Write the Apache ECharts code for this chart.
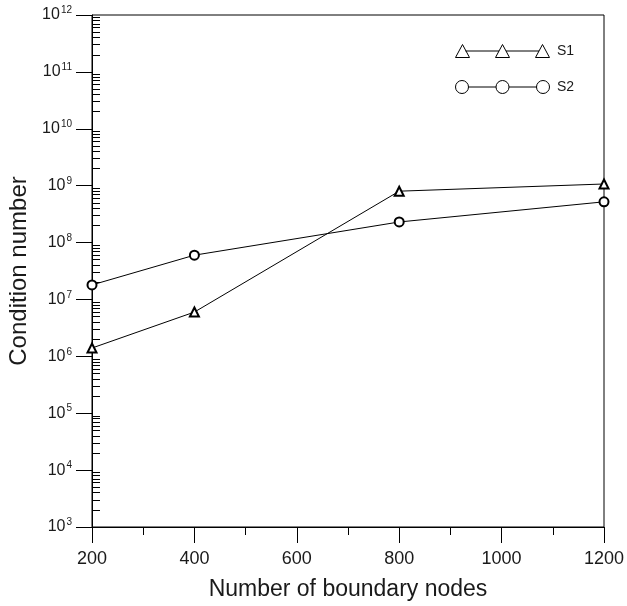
<!DOCTYPE html>
<html>
<head>
<meta charset="utf-8">
<script src="https://cdn.jsdelivr.net/npm/echarts@6/dist/echarts.min.js"></script>
<style>
  html, body { margin: 0; padding: 0; background: #fff; }
  #chart { width: 627px; height: 606px; }
</style>
</head>
<body>
<div id="chart"></div>
<script>
// boundary nodes on x, condition number on y (log)
var xValues = [200, 400, 800, 1200];
var s1Values = [1.4e6, 6.0e6, 8.0e8, 1.07e9];
var s2Values = [1.8e7, 6.0e7, 2.3e8, 5.2e8];
var seriesNames = ["S1", "S2"];

var yMin = 1e3, yMax = 1e12;

// minor log ticks 2..9 x 10^n, placed on a hidden exponent axis
var minorTicks = [];
for (var e = 3; e < 12; e++) {
  for (var m = 2; m <= 9; m++) minorTicks.push(e + Math.log10(m));
}

var font = "'Liberation Sans', Arial, Helvetica, sans-serif";

// legend icons: three markers joined by a line
var triIcon = "path://M0 13L7 0L14 13Z M40 13L47 0L54 13Z M80 13L87 0L94 13Z M10 6.5L43.5 6.5 M50.5 6.5L83.5 6.5";
var circIcon = "path://M0 6.5A6.5 6.5 0 1 0 13 6.5A6.5 6.5 0 1 0 0 6.5Z M40.5 6.5A6.5 6.5 0 1 0 53.5 6.5A6.5 6.5 0 1 0 40.5 6.5Z M81 6.5A6.5 6.5 0 1 0 94 6.5A6.5 6.5 0 1 0 81 6.5Z M13 6.5L40.5 6.5 M53.5 6.5L81 6.5";

function pairs(vals) {
  var out = [];
  for (var i = 0; i < xValues.length; i++) out.push([xValues[i], vals[i]]);
  return out;
}

var myChart = echarts.init(document.getElementById('chart'));

var option = {
  backgroundColor: '#fff',
  animation: false,
  textStyle: { fontFamily: font },
  grid: {
    left: 92, right: 23, top: 15, bottom: 79,
    outerBoundsMode: 'none',
    containLabel: false,
    show: true, borderColor: '#000', borderWidth: 1
  },
  legend: {
    orient: 'vertical',
    left: 450, top: 39,
    itemWidth: 99, itemHeight: 13, itemGap: 22,
    selectedMode: false,
    itemStyle: { color: '#fff', borderColor: '#000', borderWidth: 1 },
    textStyle: { fontSize: 14, color: '#1a1a1a', fontFamily: font },
    data: [{ name: 'S1', icon: triIcon }, { name: 'S2', icon: circIcon }]
  },
  xAxis: {
    type: 'value',
    min: 200, max: 1200, interval: 200,
    name: 'Number of boundary nodes',
    nameLocation: 'middle', nameGap: 51,
    nameTextStyle: { fontSize: 23, color: '#1a1a1a', fontFamily: font },
    axisLine: { lineStyle: { color: '#000', width: 1 } },
    axisTick: { length: 16, lineStyle: { color: '#000' } },
    minorTick: { show: true, splitNumber: 2, length: 8, lineStyle: { color: '#000' } },
    axisLabel: {
      fontSize: 18, color: '#1a1a1a', margin: 23, fontFamily: font,
      formatter: function (v) { return String(v); }
    },
    splitLine: { show: false }
  },
  yAxis: [{
    type: 'log', logBase: 10,
    min: yMin, max: yMax, interval: 1,
    name: 'Condition number',
    nameLocation: 'middle', nameGap: 60,
    nameTextStyle: { fontSize: 24, color: '#1a1a1a', fontFamily: font },
    axisLine: { lineStyle: { color: '#000', width: 1 } },
    axisTick: { length: 16, lineStyle: { color: '#000' } },
    axisLabel: {
      margin: 20,
      formatter: function (v) {
        return '{b|10}{s|' + Math.round(Math.log10(v)) + '}';
      },
      rich: {
        b: { fontSize: 16, color: '#1a1a1a', fontFamily: font },
        s: { fontSize: 10, color: '#1a1a1a', fontFamily: font, padding: [0, 0, 9, 1] }
      }
    },
    splitLine: { show: false }
  }, {
    type: 'value',
    min: 3, max: 12,
    position: 'left',
    axisLine: { show: false },
    axisLabel: { show: false },
    splitLine: { show: false },
    axisTick: { show: true, inside: true, length: 8, customValues: minorTicks, lineStyle: { color: '#000' } }
  }],
  series: [{
    name: seriesNames[0],
    type: 'line',
    data: pairs(s1Values),
    symbol: 'emptyTriangle', symbolSize: 9,
    color: '#000',
    itemStyle: { color: '#000', borderColor: '#000', borderWidth: 1 },
    lineStyle: { color: '#000', width: 1 }
  }, {
    name: seriesNames[1],
    type: 'line',
    data: pairs(s2Values),
    symbol: 'emptyCircle', symbolSize: 9,
    color: '#000',
    itemStyle: { color: '#000', borderColor: '#000', borderWidth: 1 },
    lineStyle: { color: '#000', width: 1 }
  }]
};

myChart.setOption(option);
</script>
</body>
</html>
